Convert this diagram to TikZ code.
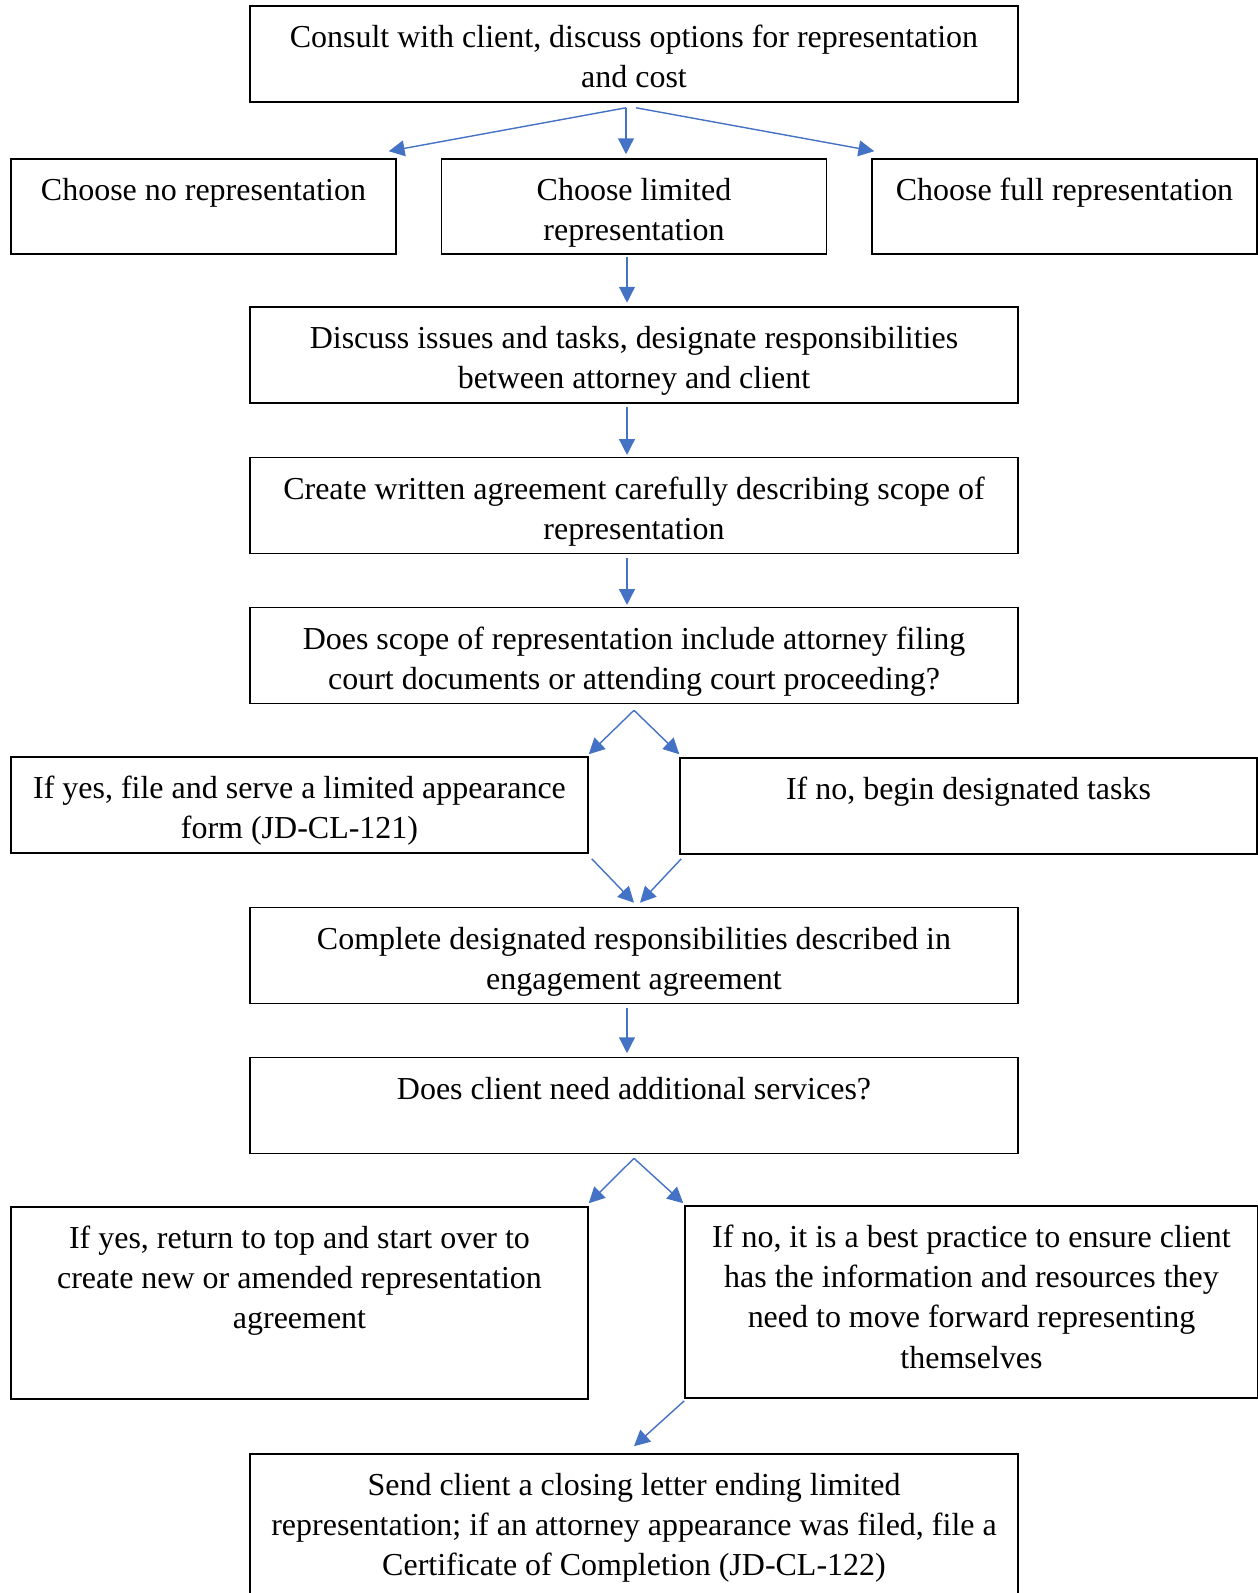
\documentclass[tikz,border=0pt]{standalone}
\usepackage{fontspec}
\setmainfont{Liberation Serif}
\usepackage{xcolor}
\usepackage{tikz}
\usetikzlibrary{positioning, arrows.meta, calc}

\definecolor{arrowblue}{HTML}{4472C4}

\begin{document}
\begin{tikzpicture}[x=0.02cm, y=-0.02cm,
        block/.style 2 args={rectangle, draw, line width=0.9pt, inner sep=0pt,
          execute at begin node={\begin{minipage}[c][#2][t]{#1}\centering\fontsize{18.2}{22.8}\selectfont\vspace*{11pt}},
          execute at end node={\end{minipage}}},
        flow/.style={-{Triangle[length=9pt,width=9pt]}, draw=arrowblue, line width=0.8pt}]

        \useasboundingbox (0,0) rectangle (1258,1593);

        \node[block={15.36cm}{1.92cm}] (consult) at (634,54) {Consult with client, discuss options for representation\\and cost};

        \node[block={7.7cm}{1.9cm}] (norep) at (203.5,206.5) {Choose no representation};
        \node[block={7.7cm}{1.9cm}] (limited) at (634,206.5) {Choose limited\\representation};
        \node[block={7.7cm}{1.9cm}] (fullrep) at (1064.5,206.5) {Choose full representation};

        \node[block={15.36cm}{1.92cm}] (discuss) at (634,355) {Discuss issues and tasks, designate responsibilities\\between attorney and client};
        \node[block={15.36cm}{1.92cm}] (agreement) at (634,505.5) {Create written agreement carefully describing scope of\\representation};
        \node[block={15.36cm}{1.92cm}] (scope) at (634,655.5) {Does scope of representation include attorney filing\\court documents or attending court proceeding?};

        \node[block={11.54cm}{1.92cm}] (fileyes) at (299.5,805) {If yes, file and serve a limited appearance\\form (JD-CL-121)};
        \node[block={11.54cm}{1.92cm}] (fileno) at (968.5,806) {If no, begin designated tasks};

        \node[block={15.36cm}{1.92cm}] (complete) at (634,955.5) {Complete designated responsibilities described in\\engagement agreement};
        \node[block={15.36cm}{1.92cm}] (more) at (634,1105.5) {Does client need additional services?};

        \node[block={11.54cm}{3.84cm}] (moreyes) at (299.5,1303) {If yes, return to top and start over to\\create new or amended representation\\agreement};
        \node[block={11.46cm}{3.84cm}] (moreno) at (971.5,1302) {If no, it is a best practice to ensure client\\has the information and resources they\\need to move forward representing\\themselves};

        \node[block={15.36cm}{3.2cm}] (closing) at (634,1534) {Send client a closing letter ending limited\\representation; if an attorney appearance was filed, file a\\Certificate of Completion (JD-CL-122)};

        % choice of representation
        \draw[flow] ([xshift=-0.16cm,yshift=-0.1cm]consult.south) -- ([xshift=-0.16cm,yshift=0.14cm]norep.north east);
        \draw[flow] ([xshift=-0.16cm,yshift=-0.1cm]consult.south) -- ([xshift=-0.16cm,yshift=0.08cm]limited.north);
        \draw[flow] ([xshift=0.04cm,yshift=-0.1cm]consult.south) -- ([xshift=0.06cm,yshift=0.14cm]fullrep.north west);

        \draw[flow, shorten <=1pt, shorten >=2pt] ([xshift=-0.14cm]limited.south) -- ([xshift=-0.14cm]discuss.north);
        \draw[flow, shorten <=2pt, shorten >=1pt] ([xshift=-0.14cm]discuss.south) -- ([xshift=-0.14cm]agreement.north);
        \draw[flow, shorten <=2pt, shorten >=1pt] ([xshift=-0.14cm]agreement.south) -- ([xshift=-0.14cm]scope.north);

        % court filing?
        \draw[flow] ([yshift=-0.12cm]scope.south) -- ([yshift=0.04cm]fileyes.north east);
        \draw[flow] ([yshift=-0.12cm]scope.south) -- ([yshift=0.06cm]fileno.north west);
        \draw[flow] ([xshift=0.06cm,yshift=-0.1cm]fileyes.south east) -- ([yshift=0.08cm]complete.north);
        \draw[flow] ([xshift=0.04cm,yshift=-0.08cm]fileno.south west) -- ([xshift=0.12cm,yshift=0.08cm]complete.north);

        \draw[flow, shorten <=2pt, shorten >=2pt] ([xshift=-0.14cm]complete.south) -- ([xshift=-0.14cm]more.north);

        % additional services?
        \draw[flow] ([yshift=-0.08cm]more.south) -- ([yshift=0.06cm]moreyes.north east);
        \draw[flow] ([yshift=-0.08cm]more.south) -- ([xshift=-0.02cm,yshift=0.04cm]moreno.north west);
        \draw[flow] ([yshift=-0.04cm]moreno.south west) -- ([yshift=0.14cm]closing.north);
      \end{tikzpicture}
\end{document}
